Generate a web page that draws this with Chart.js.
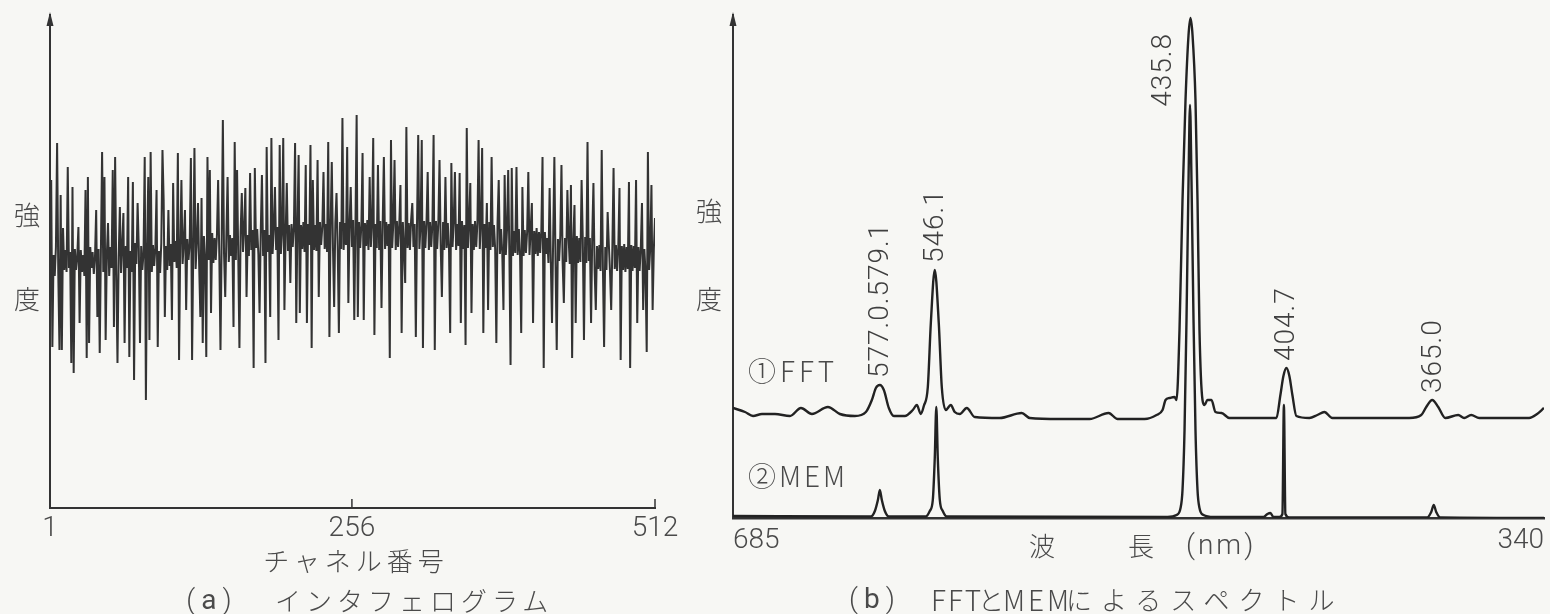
<!DOCTYPE html>
<html lang="ja">
<head>
<meta charset="utf-8">
<title>インタフェログラムとスペクトル</title>
<script src="https://cdn.jsdelivr.net/npm/chart.js@4.4.1/dist/chart.umd.min.js"></script>
<style>
  html, body { margin: 0; padding: 0; background: #f7f7f4; }
  #page { position: relative; width: 1550px; height: 614px; overflow: hidden; }
  canvas { position: absolute; top: 0; }
  #chartA { left: 0; }
  #chartB { left: 700px; }
  .t { position: absolute; transform: translateY(-50%); white-space: nowrap; color: #4a4a4a;
       font-family: "Noto Sans CJK JP", sans-serif; font-weight: 300; font-size: 26px; line-height: 1; }
  .c { transform: translate(-50%, -50%); }
  .num { font-family: Roboto, "Liberation Sans", sans-serif; font-size: 28px; }
  .lat { font-size: 28px; }
</style>
</head>
<body>
<div id="page">
  <canvas id="chartA" width="700" height="614"></canvas>
  <canvas id="chartB" width="850" height="614"></canvas>

  <div class="t c" style="left:27px;top:214px">強</div>
  <div class="t c" style="left:27px;top:298px">度</div>
  <div class="t c" style="left:356px;top:560px;letter-spacing:5px">チャネル番号</div>
  <div class="t c num" style="left:212px;top:600px;letter-spacing:6px">(<b>a</b>)</div>
  <div class="t" style="left:275px;top:600px;letter-spacing:5px">インタフェログラム</div>

  <div class="t c" style="left:709px;top:210px">強</div>
  <div class="t c" style="left:709px;top:298px">度</div>
  <div class="t" style="left:748px;top:370px;font-size:28px;letter-spacing:4px">①FFT</div>
  <div class="t" style="left:748px;top:475px;font-size:28px;letter-spacing:3px">②MEM</div>
  <div class="t c" style="left:1042px;top:545px">波</div>
  <div class="t c" style="left:1141px;top:545px">長</div>
  <div class="t num" style="left:1186px;top:545px;letter-spacing:3px">(nm)</div>
  <div class="t num" style="left:849px;top:599px;letter-spacing:6px">(<b>b</b>)</div>
  <div class="t lat" style="left:931px;top:599px;letter-spacing:2px">FFT</div>
  <div class="t" style="left:978px;top:599px">と</div>
  <div class="t lat" style="left:1003px;top:599px;letter-spacing:3px">MEM</div>
  <div class="t" style="left:1066px;top:599px;letter-spacing:9px">によるスペクトル</div>
</div>

<script>
// (a) インタフェログラム : 1..512 チャネル
const chanTicks = [1, 256, 512];
const interferogram = [
  20,82,-85,7,-14,15,119,-12,-88,67,-88,34,-8,12,-10,95,
  -6,10,-101,75,-111,13,-8,5,35,-61,12,-10,7,-14,72,-96,
  85,-81,15,-6,10,-12,5,52,-55,13,-91,12,110,-10,85,-78,
  7,39,-14,15,-6,92,-65,105,-12,-101,5,55,-11,17,49,-81,
  16,-6,85,-95,11,-10,80,-118,19,-2,59,14,-81,16,-8,9,
  105,-138,14,85,-78,110,-10,17,-4,14,72,-85,11,-11,19,112,
  62,-55,16,-8,52,-4,18,-58,79,0,21,-6,109,-98,15,82,
  -2,20,52,-48,23,2,18,104,-98,13,114,-7,20,59,-4,-55,
  64,-81,26,4,-95,105,2,92,-51,29,-1,24,2,27,82,6,
  -88,21,142,8,-35,28,85,0,27,6,24,-65,120,2,92,7,
  -86,30,69,10,33,74,-35,27,6,89,12,32,-106,94,14,33,
  8,-51,30,87,6,32,-101,115,10,27,-55,124,8,33,75,12,
  35,-78,117,8,30,124,-48,27,79,11,37,-21,38,15,35,119,
  -61,36,107,-51,37,13,40,10,97,-61,38,17,117,-86,82,12,
  37,11,102,-35,40,17,35,90,13,38,10,120,-75,36,100,14,
  -45,39,69,15,-71,40,13,144,12,39,17,115,-41,37,75,15,
  42,-58,38,147,-55,40,14,37,109,-58,39,16,42,12,85,15,
  40,124,-73,38,14,97,12,41,-46,39,105,13,40,16,38,-96,
  122,14,39,102,12,41,15,37,77,-71,40,13,-21,135,14,39,
  12,42,59,15,38,-75,40,127,13,37,122,-86,41,14,39,90,
  12,40,15,38,127,-88,41,13,39,102,16,-35,40,12,85,14,
  39,13,-71,99,15,40,90,12,38,16,89,-61,41,13,37,-83,
  134,14,40,79,-51,38,12,41,15,39,122,13,40,114,-71,38,
  14,59,-48,40,12,105,15,37,13,-81,39,82,8,33,9,-48,
  87,7,32,92,8,-103,94,6,31,9,95,7,33,8,-71,75,
  6,32,9,30,90,7,33,59,-61,31,8,34,6,30,9,32,
  105,-106,30,8,24,-1,74,0,-61,25,105,-2,-88,23,1,26,
  97,-1,-41,24,0,72,25,-2,77,-96,23,57,-61,26,-1,24,
  0,82,23,-78,25,-1,120,1,24,-61,26,79,-8,-48,16,-7,
  17,-9,112,-6,-85,15,-8,50,18,-10,-48,16,94,-7,17,-9,
  15,74,-98,16,-8,18,-10,15,-7,80,-106,17,-9,16,-6,82,
  -61,15,-9,14,59,-48,13,-10,-90,110,-8,14,77,-48,12,44
];
const channels = interferogram.map((v, i) => i + 1);

// (b) スペクトル : 横軸は波数 (cm-1)、目盛は波長 nm で表示
const nmTicks = [685, 340];
const fftK = [14599,14818,14964,15128,15365,15639,15840,16040,16332,16551,16825,17026,17135,17208,17281,17354,17445,17536,17737,17883,
  17956,18029,18084,18157,18212,18284,18357,18412,18485,18576,18649,18741,18868,19014,19470,19872,20018,20565,21112,21459,
  21623,22116,22335,22444,22499,22572,22663,22700,22754,22809,22864,22919,22955,22992,23046,23083,23119,23174,23211,23265,
  23338,23411,23521,23667,24214,24524,24597,24652,24707,24761,24816,24889,25126,25272,25400,25546,26221,26951,27170,27261,
  27370,27480,27608,27845,27954,28082,28228,29140,29286,29412];
const fftI = [110,106,102,104,104,102,110,104,111,104,102,106,118,130,133,128,110,102,102,108,
  113,104,112,131,195,248,195,131,108,113,106,104,110,101,100,105,100,99,99,105,
  99,99,103,108,118,120,121,118,188,318,418,483,500,483,418,318,188,118,113,118,
  118,106,105,100,100,100,123,142,150,142,123,102,100,103,106,100,100,100,103,111,
  118,111,100,103,100,103,100,100,104,110];
const memK = [14599,17117,17190,17245,17281,17317,17372,17445,18120,18193,18248,18284,18312,18339,18376,18430,18503,
  22536,22700,22773,22809,22846,22882,22919,22946,22973,23010,23046,23083,23119,23192,23375,
  24287,24360,24415,24469,24579,24634,24661,24688,24761,27279,27352,27398,27443,27516,29412];
const memI = [2,1.5,7,18,28,18,7,1.5,1.5,7,18,60,111,60,18,7,1.5,
  1,3,10,28,88,198,338,413,338,198,88,28,10,3,1,
  1,4,5,1,1,4,113,4,0.5,0.5,6,13,6,0.5,0];
const peakNames = ['577.0.579.1', '546.1', '435.8', '404.7', '365.0'];
const peakNm = [578, 546.1, 435.8, 404.7, 365.0];

const NUM_FONT = { family: 'Roboto, "Liberation Sans", sans-serif', size: 28, weight: 300 };

// 軸の矢印と上向きの目盛
const axisMarks = {
  id: 'axisMarks',
  afterDraw(chart, args, opts) {
    const { ctx, chartArea: a, scales } = chart;
    ctx.save();
    ctx.fillStyle = '#333';
    ctx.beginPath();
    ctx.moveTo(a.left, a.top - 3);
    ctx.lineTo(a.left - 3.5, a.top + 11);
    ctx.lineTo(a.left + 3.5, a.top + 11);
    ctx.closePath();
    ctx.fill();
    ctx.strokeStyle = '#333';
    ctx.lineWidth = 1.5;
    (opts.ticks || []).forEach(v => {
      const x = scales.x.getPixelForValue(v);
      ctx.beginPath();
      ctx.moveTo(x, a.bottom);
      ctx.lineTo(x, a.bottom - 9);
      ctx.stroke();
    });
    ctx.restore();
  }
};

// ピークの波長ラベル（縦書き）
const peakText = {
  id: 'peakText',
  afterDatasetsDraw(chart) {
    const { ctx, chartArea: a, scales: { x, y } } = chart;
    ctx.save();
    ctx.font = '300 28px Roboto, "Liberation Sans", sans-serif';
    ctx.letterSpacing = '1px';
    ctx.fillStyle = '#3f3f3f';
    ctx.textBaseline = 'middle';
    ctx.textAlign = 'left';
    peakNames.forEach((txt, i) => {
      const k = 1e7 / peakNm[i];
      let top = 0;
      fftK.forEach((kk, j) => { if (Math.abs(kk - k) < 150) top = Math.max(top, fftI[j]); });
      const w = ctx.measureText(txt).width;
      let cx = x.getPixelForValue(k);
      let base = y.getPixelForValue(top) - 7;
      if (base - w < a.top) { cx -= 26; base = a.top + 18 + w; }
      ctx.save();
      ctx.translate(cx, base);
      ctx.rotate(-Math.PI / 2);
      ctx.fillText(txt, 0, 0);
      ctx.restore();
    });
    ctx.restore();
  }
};

const hiddenY = (min, max) => ({
  min, max,
  afterFit: s => { s.width = 0; },
  ticks: { display: false },
  grid: { display: false, drawTicks: false },
  border: { display: true, color: '#333', width: 2 }
});

new Chart(document.getElementById('chartA'), {
  type: 'line',
  data: {
    datasets: [{
      data: channels.map((c, i) => ({ x: c, y: interferogram[i] })),
      borderColor: '#333', borderWidth: 2, pointRadius: 0, tension: 0
    }]
  },
  options: {
    responsive: false, animation: false, events: [],
    layout: { padding: { left: 50, right: 45, top: 15, bottom: 0 } },
    plugins: { legend: { display: false }, tooltip: { enabled: false }, axisMarks: { ticks: [256, 512] } },
    scales: {
      x: {
        type: 'linear', min: 1, max: 512,
        afterBuildTicks: s => { s.ticks = chanTicks.map(v => ({ value: v })); },
        afterFit: s => { s.height = 106; },
        grid: { display: false, drawTicks: false },
        border: { display: true, color: '#333', width: 2 },
        ticks: { color: '#4a4a4a', font: NUM_FONT, padding: 4, maxRotation: 0, autoSkip: false }
      },
      y: hiddenY(-246, 247)
    }
  },
  plugins: [axisMarks]
});

new Chart(document.getElementById('chartB'), {
  type: 'line',
  data: {
    datasets: [
      { label: 'FFT', data: fftK.map((k, i) => ({ x: k, y: fftI[i] })),
        borderColor: '#222', borderWidth: 2.4, pointRadius: 0, cubicInterpolationMode: 'monotone' },
      { label: 'MEM', data: memK.map((k, i) => ({ x: k, y: memI[i] })),
        borderColor: '#222', borderWidth: 2.4, pointRadius: 0, cubicInterpolationMode: 'monotone' }
    ]
  },
  options: {
    responsive: false, animation: false, events: [],
    layout: { padding: { left: 33, right: 5, top: 15, bottom: 0 } },
    plugins: { legend: { display: false }, tooltip: { enabled: false }, axisMarks: { ticks: [] } },
    scales: {
      x: {
        type: 'linear', min: 1e7 / 685, max: 1e7 / 340,
        afterBuildTicks: s => { s.ticks = nmTicks.map(n => ({ value: 1e7 / n })); },
        afterFit: s => { s.height = 96; },
        grid: { display: false, drawTicks: false },
        border: { display: true, color: '#333', width: 2.4 },
        ticks: { color: '#4a4a4a', font: NUM_FONT, padding: 6, align: 'inner', maxRotation: 0, autoSkip: false,
                 callback: v => String(Math.round(1e7 / v)) }
      },
      y: hiddenY(0, 503)
    }
  },
  plugins: [axisMarks, peakText]
});
</script>
</body>
</html>
